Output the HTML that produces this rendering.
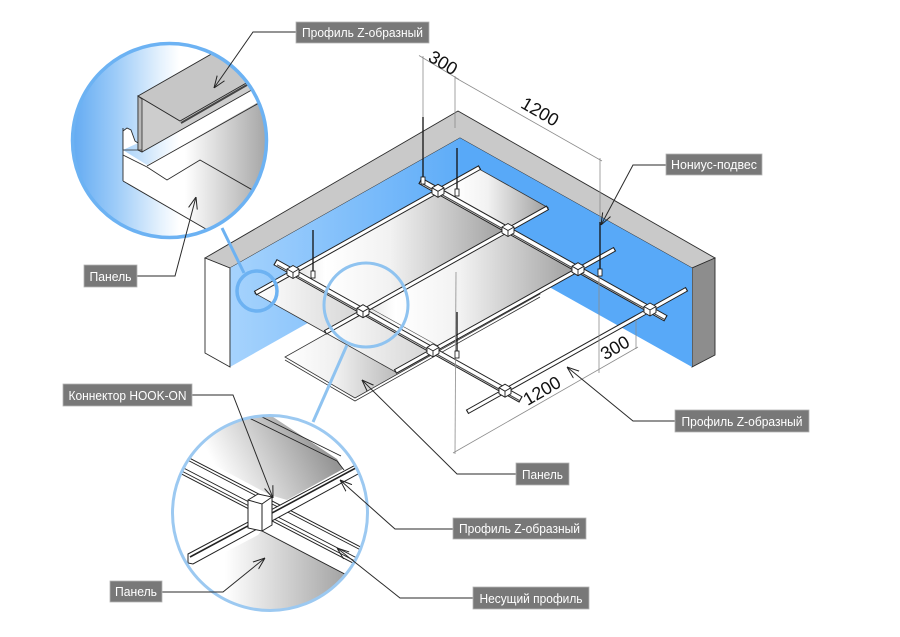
<!DOCTYPE html>
<html><head><meta charset="utf-8"><style>
html,body{margin:0;padding:0;background:#fff;}
svg{display:block;}
text{font-family:"Liberation Sans",Arial,sans-serif;}
</style></head><body>
<svg width="900" height="637" viewBox="0 0 900 637" xmlns="http://www.w3.org/2000/svg">
<defs>
 <linearGradient id="lw" gradientUnits="userSpaceOnUse" x1="230" y1="0" x2="460" y2="0">
  <stop offset="0" stop-color="#a6d3fd"/><stop offset="1" stop-color="#5eacf8"/>
 </linearGradient>
 <linearGradient id="pg" x1="0" y1="0" x2="1" y2="0">
  <stop offset="0" stop-color="#e2e2e2"/><stop offset="0.15" stop-color="#ffffff"/><stop offset="0.45" stop-color="#f2f2f2"/><stop offset="1" stop-color="#9e9e9e"/>
 </linearGradient>
 <linearGradient id="pg2" x1="0" y1="0" x2="1" y2="0">
  <stop offset="0" stop-color="#ffffff"/><stop offset="1" stop-color="#d4d4d4"/>
 </linearGradient>
 <linearGradient id="lp" gradientUnits="userSpaceOnUse" x1="285" y1="0" x2="540" y2="0">
  <stop offset="0" stop-color="#ffffff"/><stop offset="0.2" stop-color="#f0f0f0"/><stop offset="0.55" stop-color="#a2a2a2"/><stop offset="0.62" stop-color="#ffffff"/><stop offset="1" stop-color="#ffffff"/>
 </linearGradient>
 <linearGradient id="bcg" gradientUnits="userSpaceOnUse" x1="72" y1="0" x2="267" y2="0">
  <stop offset="0" stop-color="#62aaf2"/><stop offset="0.22" stop-color="#9ccbf8"/><stop offset="0.45" stop-color="#e4f1fd"/><stop offset="0.55" stop-color="#ffffff"/><stop offset="1" stop-color="#ffffff"/>
 </linearGradient>
 <linearGradient id="bpg" gradientUnits="userSpaceOnUse" x1="185" y1="0" x2="268" y2="0">
  <stop offset="0" stop-color="#ffffff"/><stop offset="1" stop-color="#a4a4a4"/>
 </linearGradient>
 <linearGradient id="up" gradientUnits="userSpaceOnUse" x1="320" y1="435" x2="225" y2="485">
  <stop offset="0" stop-color="#959595"/><stop offset="1" stop-color="#ffffff"/>
 </linearGradient>
 <linearGradient id="lo" gradientUnits="userSpaceOnUse" x1="225" y1="0" x2="355" y2="0">
  <stop offset="0" stop-color="#ffffff"/><stop offset="1" stop-color="#9c9c9c"/>
 </linearGradient>
 <clipPath id="cb"><circle cx="169.5" cy="140.5" r="97"/></clipPath>
 <clipPath id="cl"><circle cx="270" cy="513" r="97.5"/></clipPath>
 <marker id="ah" viewBox="0 0 12 10" refX="12" refY="5" markerWidth="12" markerHeight="10" markerUnits="userSpaceOnUse" orient="auto">
  <path d="M0,0.5 L12,5 L0,9.5" fill="none" stroke="#222" stroke-width="1"/>
 </marker>
</defs>

<rect width="900" height="637" fill="#fff"/>

<!-- walls -->
<polygon points="205,258 458,111 715,258 692,268 460,138 230,268" fill="#c9c9c9" stroke="#2b2b2b" stroke-width="0.9"/>
<polygon points="205,258 230,268 230,367 205,353" fill="#fff" stroke="#2b2b2b" stroke-width="0.9"/>
<polygon points="692,268 715,258 715,355 692,367" fill="#8d8d8d" stroke="#2b2b2b" stroke-width="0.9"/>
<polygon points="230,268 460,138 460,237 230,367" fill="url(#lw)"/>
<polygon points="460,138 692,268 692,367 460,237" fill="#58a9f8"/>
<line x1="230" y1="268" x2="230" y2="367" stroke="#2b2b2b" stroke-width="0.9"/>

<!-- lowered panel -->
<polygon points="285,357 355,398 540,294 470,253" fill="url(#lp)" stroke="#333" stroke-width="0.8"/>
<polyline points="285,360 355,401 540,297" fill="none" stroke="#333" stroke-width="0.8"/>

<!-- panels in grid -->
<g stroke="#333" stroke-width="0.8">
 <polygon points="255,293.3 293,272 363,311.2 325,332.5" fill="url(#pg2)"/>
 <polygon points="293,272 438,190.8 508,230 363,311.2" fill="url(#pg)"/>
 <polygon points="438,190.8 478,168.4 548,207.6 508,230" fill="url(#pg)"/>
 <polygon points="325,332.5 363,311.2 433,350.4 395,371.7" fill="url(#pg2)"/>
 <polygon points="363,311.2 508,230 578,269.2 433,350.4" fill="url(#pg)"/>
</g>
<g stroke="#555" stroke-width="0.6" fill="none">
 <line x1="300" y1="276" x2="368" y2="314"/>
 <line x1="370" y1="308" x2="440" y2="347"/>
</g>

<!-- Z bars -->
<path d="M255,293.3 L480,167.3 M325,332.5 L548,207.6 M395,371.7 L615,249 M467,412 L687,289" stroke="#222" stroke-width="5" fill="none"/>
<path d="M256,292.7 L479,167.9 M326,331.9 L547,208.2 M396,371.1 L614,249.6 M468,411.4 L686,289.6" stroke="#fff" stroke-width="3" fill="none"/>
<!-- carriers -->
<path d="M275,262 L521,399.7 M420,180.7 L666,318.5" stroke="#222" stroke-width="7" fill="none"/>
<path d="M276,262.6 L520,399.1 M421,181.3 L665,317.9" stroke="#fff" stroke-width="5" fill="none"/>
<path d="M277,264.8 L520,400.8 M422,183.5 L665,319.7" stroke="#444" stroke-width="1.1" fill="none"/>

<!-- connectors -->
<g fill="#fff" stroke="#222" stroke-width="0.9">
 <g transform="translate(293,272)"><polygon points="-6,-3 0,-6.5 6,-3 6,3 0,6.5 -6,3"/><path d="M-6,-3 L0,0.5 L6,-3 M0,0.5 L0,6.5" fill="none"/></g>
 <g transform="translate(363,311.2)"><polygon points="-6,-3 0,-6.5 6,-3 6,3 0,6.5 -6,3"/><path d="M-6,-3 L0,0.5 L6,-3 M0,0.5 L0,6.5" fill="none"/></g>
 <g transform="translate(433,350.4)"><polygon points="-6,-3 0,-6.5 6,-3 6,3 0,6.5 -6,3"/><path d="M-6,-3 L0,0.5 L6,-3 M0,0.5 L0,6.5" fill="none"/></g>
 <g transform="translate(505,390.7)"><polygon points="-6,-3 0,-6.5 6,-3 6,3 0,6.5 -6,3"/><path d="M-6,-3 L0,0.5 L6,-3 M0,0.5 L0,6.5" fill="none"/></g>
 <g transform="translate(438,190.8)"><polygon points="-6,-3 0,-6.5 6,-3 6,3 0,6.5 -6,3"/><path d="M-6,-3 L0,0.5 L6,-3 M0,0.5 L0,6.5" fill="none"/></g>
 <g transform="translate(508,230)"><polygon points="-6,-3 0,-6.5 6,-3 6,3 0,6.5 -6,3"/><path d="M-6,-3 L0,0.5 L6,-3 M0,0.5 L0,6.5" fill="none"/></g>
 <g transform="translate(578,269.2)"><polygon points="-6,-3 0,-6.5 6,-3 6,3 0,6.5 -6,3"/><path d="M-6,-3 L0,0.5 L6,-3 M0,0.5 L0,6.5" fill="none"/></g>
 <g transform="translate(650,309.5)"><polygon points="-6,-3 0,-6.5 6,-3 6,3 0,6.5 -6,3"/><path d="M-6,-3 L0,0.5 L6,-3 M0,0.5 L0,6.5" fill="none"/></g>
</g>

<!-- dimension lines -->
<g stroke="#8c8c8c" stroke-width="0.8" fill="none">
 <line x1="423" y1="56" x2="423" y2="117"/>
 <line x1="455" y1="76" x2="455" y2="128"/>
 <line x1="419" y1="55.5" x2="459" y2="79.5"/>
 <line x1="455" y1="77.5" x2="602" y2="161"/>
 <line x1="600" y1="158" x2="600" y2="222"/>
 <line x1="599" y1="273" x2="599" y2="373"/>
 <line x1="456" y1="272" x2="455" y2="454"/>
 <line x1="453" y1="453" x2="638" y2="347"/>
 <line x1="636" y1="320" x2="636" y2="349"/>
</g>
<g font-size="18" fill="#111">
 <text transform="translate(440,68) rotate(31)" text-anchor="middle">300</text>
 <text transform="translate(537,117) rotate(30)" text-anchor="middle">1200</text>
 <text transform="translate(545,396) rotate(-30)" text-anchor="middle">1200</text>
 <text transform="translate(618,353) rotate(-30)" text-anchor="middle">300</text>
</g>

<!-- hangers -->
<g stroke="#111" stroke-width="1.3">
 <line x1="313" y1="230" x2="313" y2="278"/>
 <line x1="423" y1="117" x2="423" y2="184"/>
 <line x1="457" y1="148" x2="457" y2="196"/>
 <line x1="600" y1="222" x2="600" y2="276"/>
 <line x1="457" y1="312" x2="457" y2="358"/>
</g>
<g fill="#fff" stroke="#111" stroke-width="0.8">
 <rect x="311" y="271" width="4" height="7"/>
 <rect x="421" y="177" width="4" height="7"/>
 <rect x="455" y="189" width="4" height="7"/>
 <rect x="598" y="269" width="4" height="7"/>
 <rect x="455" y="351" width="4" height="7"/>
</g>

<!-- circle links -->
<line x1="222" y1="228" x2="244" y2="273" stroke="#6db2f2" stroke-width="3"/>
<line x1="347" y1="345" x2="313" y2="422" stroke="#8fc3f0" stroke-width="3"/>
<circle cx="257" cy="291" r="20" fill="none" stroke="#6db2f2" stroke-width="3.5"/>
<circle cx="366" cy="305" r="42" fill="none" stroke="#8fc3f0" stroke-width="3"/>

<!-- big circle content -->
<g clip-path="url(#cb)">
 <rect x="70" y="40" width="200" height="200" fill="url(#bcg)"/>
 <polygon points="123,150 147,165 262,100 280,100 280,260 217,236 123,181" fill="url(#bpg)"/>
 <g stroke="#2b2b2b" stroke-width="0.9" fill="none">
  <line x1="123" y1="128" x2="123" y2="181"/>
  <line x1="123" y1="181" x2="230" y2="243"/>
  <polyline points="123,155 147,167 167,180 200,160 270,200"/>
  <line x1="147" y1="166" x2="275" y2="94"/>
 </g>
 <polygon points="138,96 180,121 280,63 280,74 142,152 138,150" fill="#cdcdcd" stroke="#2b2b2b" stroke-width="0.9"/>
 <polygon points="138,96 142,99 142,152 138,150" fill="#b8b8b8" stroke="#2b2b2b" stroke-width="0.8"/>
 <polygon points="138,96 215,52 290,52 290,58 180,121" fill="#c6c6c6" stroke="#2b2b2b" stroke-width="0.9"/>
 <line x1="181" y1="123" x2="285" y2="63" stroke="#444" stroke-width="2"/>
 <path d="M123,150 L123,131 L127,128 L131,130 L135,141 L138,143" fill="#fff" stroke="#2b2b2b" stroke-width="0.9"/>
 <line x1="123" y1="150" x2="142" y2="150" stroke="#2b2b2b" stroke-width="0.8"/>
</g>
<circle cx="169.5" cy="140.5" r="97" fill="none" stroke="#6cb2f3" stroke-width="3.5"/>

<!-- bottom circle content -->
<g clip-path="url(#cl)">
 <rect x="170" y="412" width="200" height="205" fill="#fff"/>
 <polygon points="247,417 267,413 337,459 343,469 287,500 270,495 193,454 203,439" fill="url(#up)"/>
 <polygon points="262,530 357,580 375,575 375,620 165,620 165,580 195,568 258,535" fill="url(#lo)"/>
 <g stroke="#222" stroke-width="0.9" fill="none">
  <line x1="247" y1="417" x2="337" y2="461"/>
  <line x1="254" y1="413" x2="341" y2="456"/>
  <line x1="337" y1="461" x2="344" y2="470"/>
  <line x1="262" y1="531" x2="360" y2="582"/>
 </g>
 <!-- carrier -->
 <polygon points="170,448 380,557 380,577 170,468" fill="#fff" stroke="#222" stroke-width="1"/>
 <g stroke="#222" stroke-width="0.9" fill="none">
  <line x1="170" y1="451" x2="380" y2="560"/>
  <line x1="170" y1="461" x2="380" y2="570"/>
  <line x1="170" y1="465" x2="380" y2="574"/>
 </g>
 <!-- Z bar -->
 <polygon points="188,554 380,452 380,462 193,564 188,563" fill="#fff" stroke="#222" stroke-width="1"/>
 <line x1="190" y1="557" x2="380" y2="455" stroke="#222" stroke-width="1.6"/>
 <!-- connector -->
 <polygon points="248,500 258,494 272,497 272,525 262,531 248,528" fill="#fff" stroke="#222" stroke-width="1"/>
 <path d="M248,500 L262,504 L272,497 M262,504 L262,531" fill="none" stroke="#222" stroke-width="1"/>
</g>
<circle cx="270" cy="513" r="97.5" fill="none" stroke="#9cc9f1" stroke-width="3"/>

<!-- leaders -->
<g stroke="#2a2a2a" stroke-width="1" fill="none" marker-end="url(#ah)">
 <polyline points="296,32 253,32 214,88"/>
 <polyline points="666,165 633,165 601,225"/>
 <polyline points="137,276 175,276 196,197"/>
 <polyline points="192,395 233,395 273,498"/>
 <polyline points="162,592 223,592 265,558"/>
 <polyline points="675,421 633,421 567,367"/>
 <polyline points="516,474 457,474 362,380"/>
 <polyline points="453,529 395,529 340,480"/>
 <polyline points="473,598 400,598 337,548"/>
</g>

<!-- labels -->
<g fill="#787878" stroke="#b5b5b5" stroke-width="0.8">
 <rect x="296" y="22" width="133" height="21"/>
 <rect x="666" y="154" width="96" height="21"/>
 <rect x="84" y="265" width="53" height="22"/>
 <rect x="63" y="384" width="129" height="22"/>
 <rect x="110" y="581" width="52" height="21"/>
 <rect x="675" y="410" width="134" height="22"/>
 <rect x="516" y="463" width="53" height="22"/>
 <rect x="453" y="518" width="133" height="21"/>
 <rect x="473" y="587" width="116" height="22"/>
</g>
<g fill="#fff" font-size="13" text-anchor="middle">
 <text x="362.5" y="37" textLength="121" lengthAdjust="spacingAndGlyphs">Профиль Z-образный</text>
 <text x="714" y="169" textLength="86" lengthAdjust="spacingAndGlyphs">Нониус-подвес</text>
 <text x="110.5" y="281" textLength="42" lengthAdjust="spacingAndGlyphs">Панель</text>
 <text x="127.5" y="400" textLength="118" lengthAdjust="spacingAndGlyphs">Коннектор HOOK-ON</text>
 <text x="136" y="596" textLength="42" lengthAdjust="spacingAndGlyphs">Панель</text>
 <text x="742" y="426" textLength="121" lengthAdjust="spacingAndGlyphs">Профиль Z-образный</text>
 <text x="542.5" y="479" textLength="41" lengthAdjust="spacingAndGlyphs">Панель</text>
 <text x="519.5" y="533" textLength="121" lengthAdjust="spacingAndGlyphs">Профиль Z-образный</text>
 <text x="531" y="603" textLength="103" lengthAdjust="spacingAndGlyphs">Несущий профиль</text>
</g>
</svg>
</body></html>
